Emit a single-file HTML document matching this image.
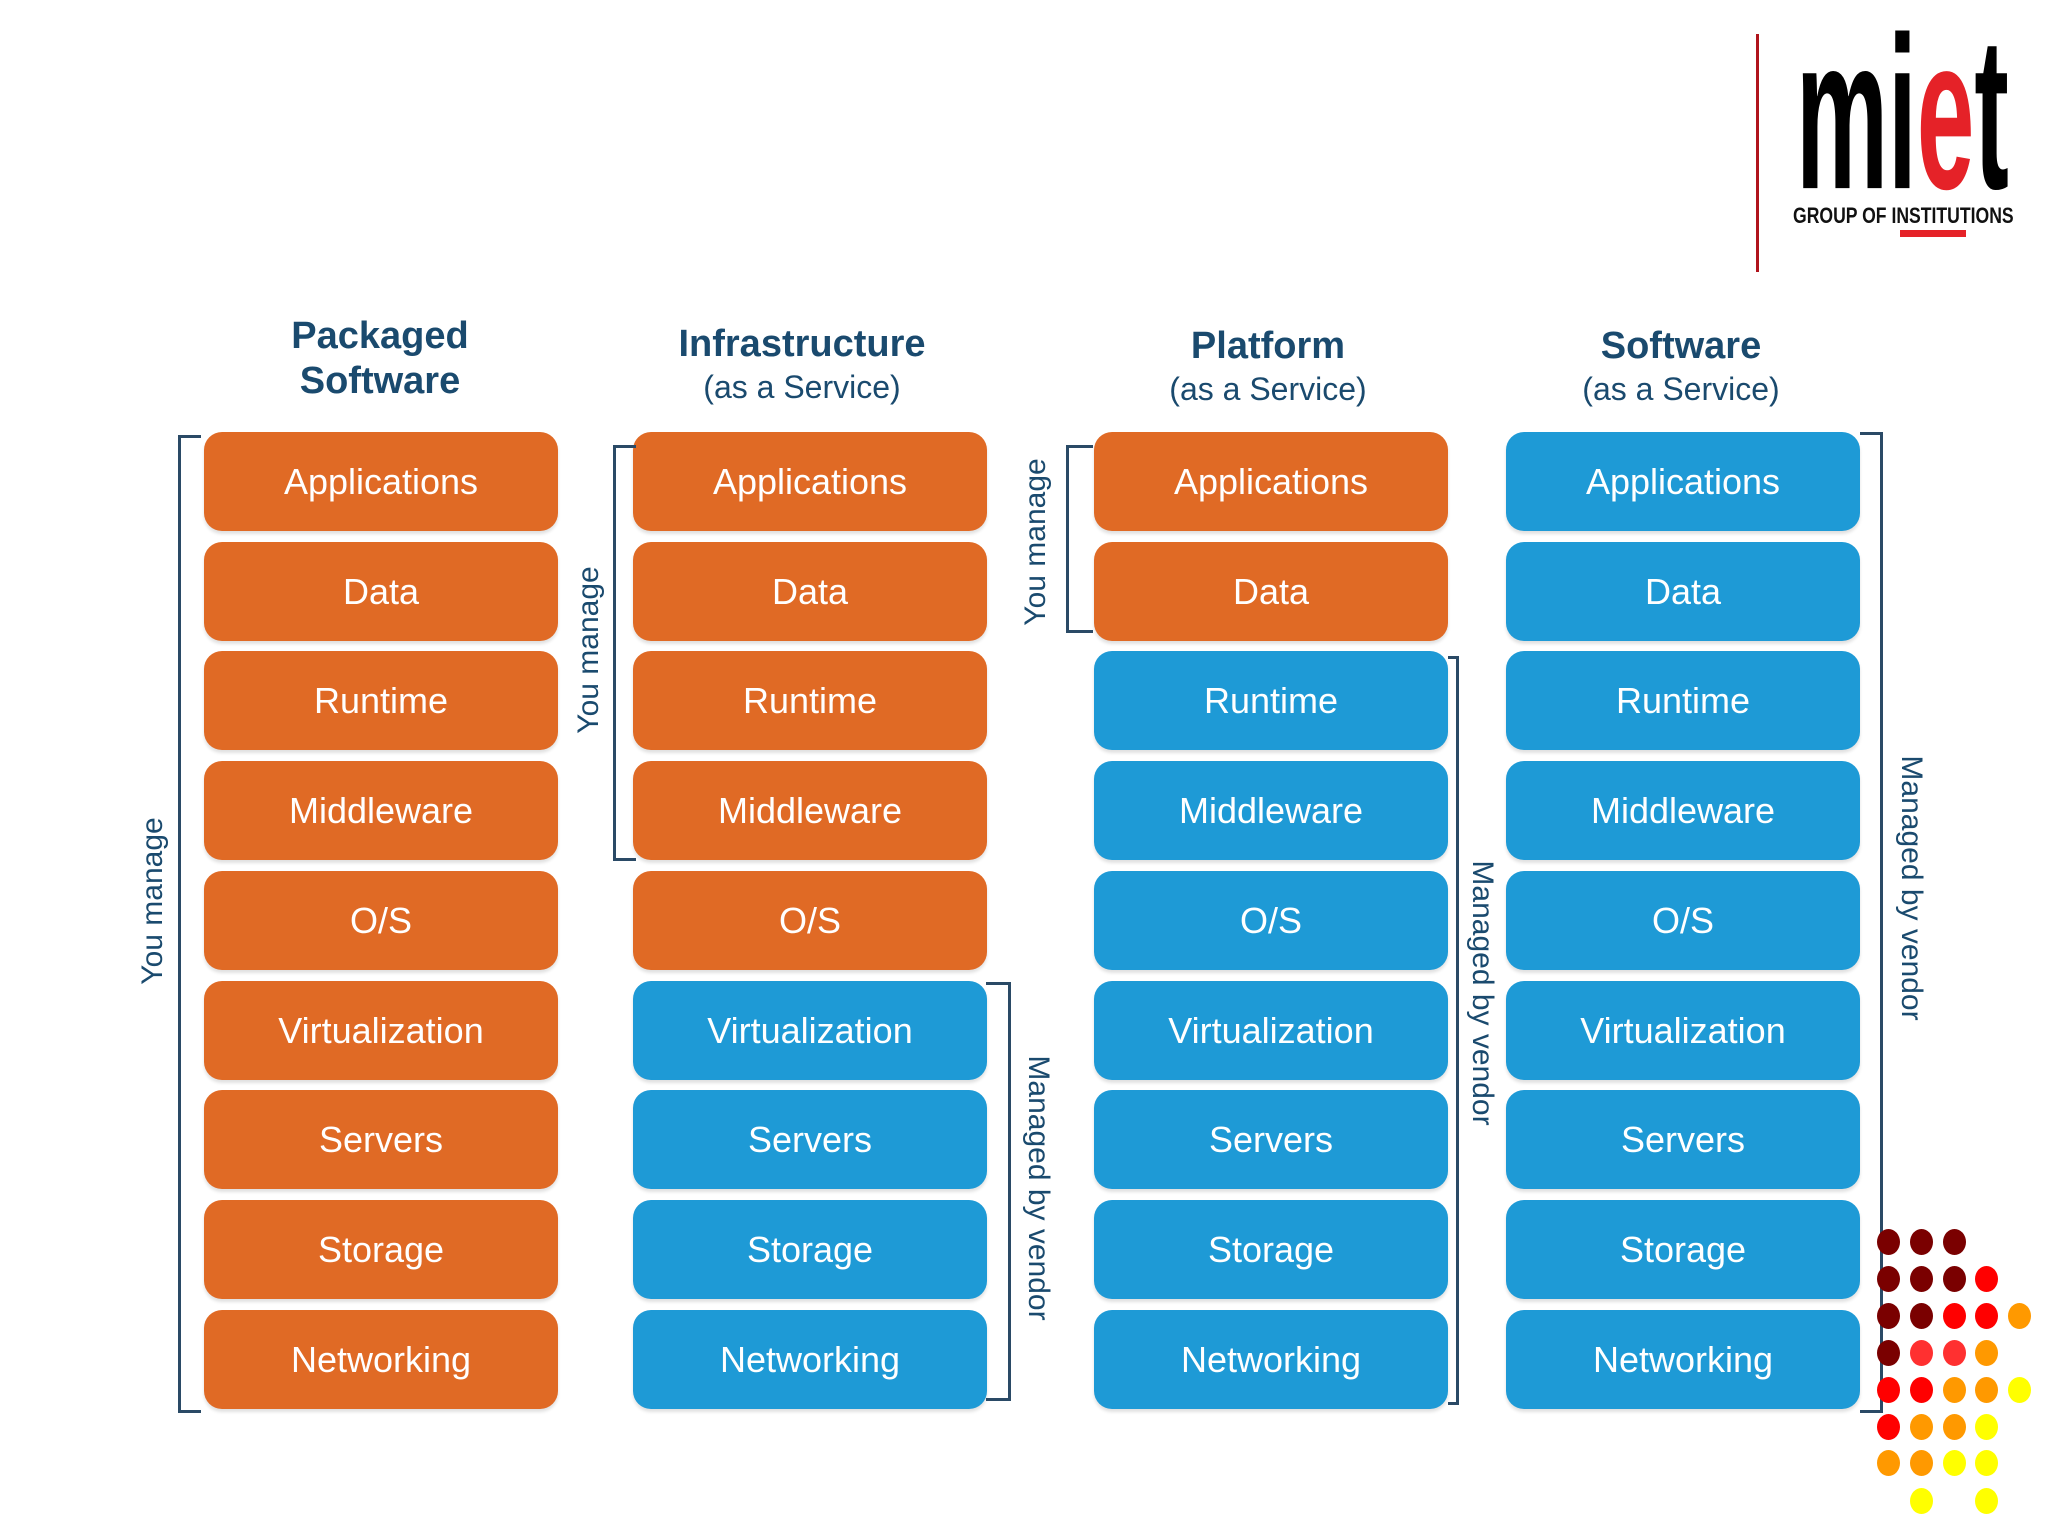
<!DOCTYPE html>
<html><head><meta charset="utf-8"><style>
html,body{margin:0;padding:0;background:#fff;}
#c{position:relative;width:2048px;height:1536px;overflow:hidden;font-family:"Liberation Sans",sans-serif;}
.b{position:absolute;width:354px;height:99px;border-radius:18px;color:#fff;font-size:36px;display:flex;align-items:center;justify-content:center;box-shadow:0 3px 3px rgba(0,0,0,0.12);}
.o{background:#e06a25;}
.u{background:#1e9ad6;}
.h{position:absolute;color:#1a4a6e;text-align:center;width:420px;}
.h1{font-weight:bold;font-size:38px;line-height:45px;}
.h2{font-size:32px;line-height:40px;}
.br{position:absolute;border:3px solid #2a4a66;}
.lab{position:absolute;color:#1a4a6e;font-size:30px;white-space:nowrap;}
.d{position:absolute;width:23px;height:26px;border-radius:50%;}
</style></head><body><div id="c">
<!-- logo -->
<div style="position:absolute;left:1756px;top:34px;width:3px;height:238px;background:#b0141c"></div>
<div style="position:absolute;left:1796px;top:4px;width:320px;height:150px;font-weight:bold;font-size:150px;line-height:150px;white-space:nowrap;transform:scale(0.69,1.45);transform-origin:left top;color:#000">mi<span style="color:#e52228">e</span>t</div>
<div style="position:absolute;left:1793px;top:203px;width:300px;font-weight:bold;font-size:22px;transform:scaleX(0.8);transform-origin:left top;color:#111;white-space:nowrap">GROUP OF INSTITUTIONS</div>
<div style="position:absolute;left:1900px;top:230px;width:66px;height:7px;background:#e52228"></div>

<!-- headers -->
<div class="h" style="left:170px;top:314px"><div class="h1">Packaged<br>Software</div></div>
<div class="h" style="left:592px;top:322px"><div class="h1">Infrastructure</div><div class="h2">(as a Service)</div></div>
<div class="h" style="left:1058px;top:324px"><div class="h1">Platform</div><div class="h2">(as a Service)</div></div>
<div class="h" style="left:1471px;top:324px"><div class="h1">Software</div><div class="h2">(as a Service)</div></div>

<!-- col1 -->
<div class="b o" style="left:204px;top:432px">Applications</div>
<div class="b o" style="left:204px;top:542px">Data</div>
<div class="b o" style="left:204px;top:651px">Runtime</div>
<div class="b o" style="left:204px;top:761px">Middleware</div>
<div class="b o" style="left:204px;top:871px">O/S</div>
<div class="b o" style="left:204px;top:981px">Virtualization</div>
<div class="b o" style="left:204px;top:1090px">Servers</div>
<div class="b o" style="left:204px;top:1200px">Storage</div>
<div class="b o" style="left:204px;top:1310px">Networking</div>
<!-- col2 -->
<div class="b o" style="left:633px;top:432px">Applications</div>
<div class="b o" style="left:633px;top:542px">Data</div>
<div class="b o" style="left:633px;top:651px">Runtime</div>
<div class="b o" style="left:633px;top:761px">Middleware</div>
<div class="b o" style="left:633px;top:871px">O/S</div>
<div class="b u" style="left:633px;top:981px">Virtualization</div>
<div class="b u" style="left:633px;top:1090px">Servers</div>
<div class="b u" style="left:633px;top:1200px">Storage</div>
<div class="b u" style="left:633px;top:1310px">Networking</div>
<!-- col3 -->
<div class="b o" style="left:1094px;top:432px">Applications</div>
<div class="b o" style="left:1094px;top:542px">Data</div>
<div class="b u" style="left:1094px;top:651px">Runtime</div>
<div class="b u" style="left:1094px;top:761px">Middleware</div>
<div class="b u" style="left:1094px;top:871px">O/S</div>
<div class="b u" style="left:1094px;top:981px">Virtualization</div>
<div class="b u" style="left:1094px;top:1090px">Servers</div>
<div class="b u" style="left:1094px;top:1200px">Storage</div>
<div class="b u" style="left:1094px;top:1310px">Networking</div>
<!-- col4 -->
<div class="b u" style="left:1506px;top:432px">Applications</div>
<div class="b u" style="left:1506px;top:542px">Data</div>
<div class="b u" style="left:1506px;top:651px">Runtime</div>
<div class="b u" style="left:1506px;top:761px">Middleware</div>
<div class="b u" style="left:1506px;top:871px">O/S</div>
<div class="b u" style="left:1506px;top:981px">Virtualization</div>
<div class="b u" style="left:1506px;top:1090px">Servers</div>
<div class="b u" style="left:1506px;top:1200px">Storage</div>
<div class="b u" style="left:1506px;top:1310px">Networking</div>

<!-- brackets -->
<div class="br" style="left:178px;top:435px;width:20px;height:972px;border-right:none"></div>
<div class="lab" style="left:153px;top:901px;transform:translate(-50%,-50%) rotate(-90deg)">You manage</div>
<div class="br" style="left:613px;top:445px;width:20px;height:410px;border-right:none"></div>
<div class="lab" style="left:589px;top:650px;transform:translate(-50%,-50%) rotate(-90deg)">You manage</div>
<div class="br" style="left:986px;top:982px;width:22px;height:413px;border-left:none"></div>
<div class="lab" style="left:1038px;top:1188px;transform:translate(-50%,-50%) rotate(90deg)">Managed by vendor</div>
<div class="br" style="left:1066px;top:445px;width:24px;height:182px;border-right:none"></div>
<div class="lab" style="left:1036px;top:542px;transform:translate(-50%,-50%) rotate(-90deg)">You manage</div>
<div class="br" style="left:1448px;top:656px;width:8px;height:743px;border-left:none"></div>
<div class="lab" style="left:1482px;top:993px;transform:translate(-50%,-50%) rotate(90deg)">Managed by vendor</div>
<div class="br" style="left:1860px;top:432px;width:20px;height:975px;border-left:none"></div>
<div class="lab" style="left:1911px;top:888px;transform:translate(-50%,-50%) rotate(90deg)">Managed by vendor</div>

<!-- dots -->
<div class="d" style="left:1877px;top:1229px;background:#7a0000"></div>
<div class="d" style="left:1910px;top:1229px;background:#7a0000"></div>
<div class="d" style="left:1943px;top:1229px;background:#7a0000"></div>
<div class="d" style="left:1877px;top:1266px;background:#7a0000"></div>
<div class="d" style="left:1910px;top:1266px;background:#7a0000"></div>
<div class="d" style="left:1943px;top:1266px;background:#7a0000"></div>
<div class="d" style="left:1975px;top:1266px;background:#ff0000"></div>
<div class="d" style="left:1877px;top:1303px;background:#7a0000"></div>
<div class="d" style="left:1910px;top:1303px;background:#7a0000"></div>
<div class="d" style="left:1943px;top:1303px;background:#ff0000"></div>
<div class="d" style="left:1975px;top:1303px;background:#ff0000"></div>
<div class="d" style="left:2008px;top:1303px;background:#ff9900"></div>
<div class="d" style="left:1877px;top:1340px;background:#7a0000"></div>
<div class="d" style="left:1910px;top:1340px;background:#ff3030"></div>
<div class="d" style="left:1943px;top:1340px;background:#ff3030"></div>
<div class="d" style="left:1975px;top:1340px;background:#ff9900"></div>
<div class="d" style="left:1877px;top:1377px;background:#ff0000"></div>
<div class="d" style="left:1910px;top:1377px;background:#ff0000"></div>
<div class="d" style="left:1943px;top:1377px;background:#ff9900"></div>
<div class="d" style="left:1975px;top:1377px;background:#ff9900"></div>
<div class="d" style="left:2008px;top:1377px;background:#ffff00"></div>
<div class="d" style="left:1877px;top:1414px;background:#ff0000"></div>
<div class="d" style="left:1910px;top:1414px;background:#ff9900"></div>
<div class="d" style="left:1943px;top:1414px;background:#ff9900"></div>
<div class="d" style="left:1975px;top:1414px;background:#ffff00"></div>
<div class="d" style="left:1877px;top:1450px;background:#ff9900"></div>
<div class="d" style="left:1910px;top:1450px;background:#ff9900"></div>
<div class="d" style="left:1943px;top:1450px;background:#ffff00"></div>
<div class="d" style="left:1975px;top:1450px;background:#ffff00"></div>
<div class="d" style="left:1910px;top:1488px;background:#ffff00"></div>
<div class="d" style="left:1975px;top:1488px;background:#ffff00"></div>
</div></body></html>
